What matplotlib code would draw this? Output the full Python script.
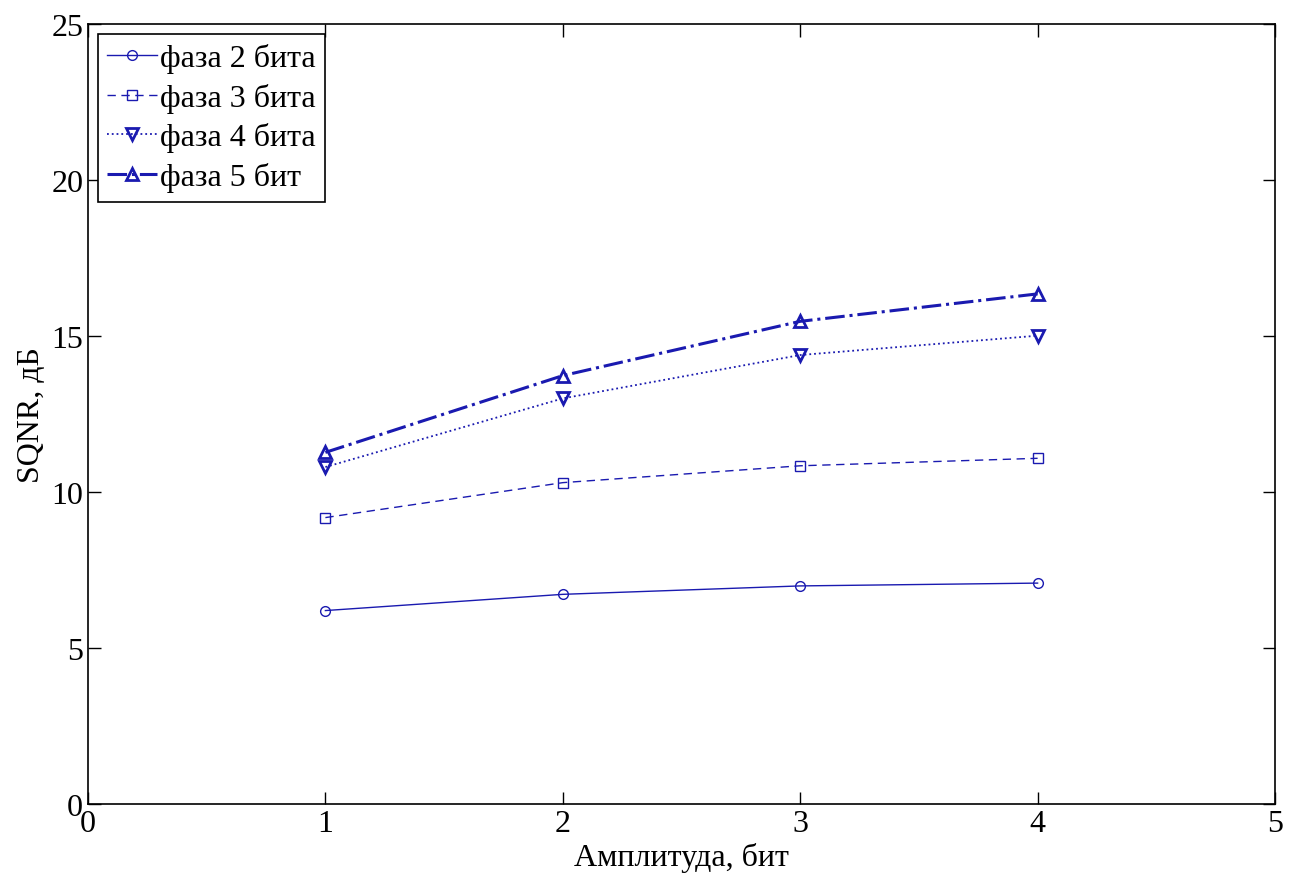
import matplotlib.pyplot as plt

# Daten
amplituda = [1, 2, 3, 4]
faza2 = [6.2, 6.72, 6.99, 7.08]
faza3 = [9.18, 10.3, 10.84, 11.08]
faza4 = [10.8, 13.0, 14.39, 15.01]
faza5 = [11.27, 13.73, 15.47, 16.35]

x_ticks = [0, 1, 2, 3, 4, 5]
y_ticks = [0, 5, 10, 15, 20, 25]

plt.rcParams['font.family'] = ['Liberation Serif', 'DejaVu Serif']
plt.rcParams['xtick.direction'] = 'in'
plt.rcParams['ytick.direction'] = 'in'

farbe = '#1a1ab0'

fig = plt.figure(figsize=(12.94, 8.78), dpi=100)
ax = fig.add_axes([88 / 1294, 1 - 805 / 878, (1275 - 88) / 1294, (805 - 25) / 878])

ax.plot(amplituda, faza2, '-', color=farbe, marker='o', markersize=7,
        markerfacecolor='none', linewidth=1.0, label='фаза 2 бита')
ax.plot(amplituda, faza3, color=farbe, linestyle=(0, (6, 4)), marker='s', markersize=7,
        markerfacecolor='none', linewidth=1.0, label='фаза 3 бита')
ax.plot(amplituda, faza4, ':', color=farbe, marker='v', markersize=9,
        markerfacecolor='none', markeredgewidth=2, linewidth=1.3, label='фаза 4 бита')
ax.plot(amplituda, faza5, '-.', color=farbe, marker='^', markersize=9,
        markerfacecolor='none', markeredgewidth=2, linewidth=2.2, label='фаза 5 бит')

ax.set_xlim(0, 5)
ax.set_ylim(0, 25)
ax.set_xticks(x_ticks)
ax.set_yticks(y_ticks)
ax.tick_params(labelsize=23, top=True, right=True, length=9, width=1)
for s in ax.spines.values():
    s.set_linewidth(1.2)

ax.set_xlabel('Амплитуда, бит', fontsize=23, labelpad=3)
ax.set_ylabel('SQNR, дБ', fontsize=23, labelpad=4)

leg = ax.legend(loc='upper left', fontsize=23, handlelength=1.55, handletextpad=0.1,
                borderaxespad=0.3, borderpad=0.3, labelspacing=0.3, fancybox=False)
leg.get_frame().set_edgecolor('black')
leg.get_frame().set_linewidth(1.2)
leg.get_frame().set_alpha(1)

plt.savefig('out.png', dpi=100)
